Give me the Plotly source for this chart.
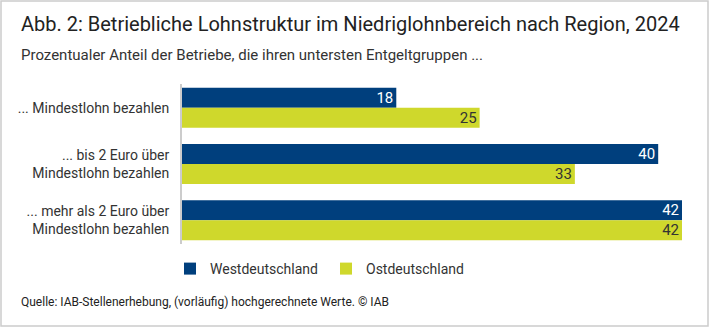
import plotly.graph_objects as go

categories = ["... Mindestlohn bezahlen",
              "... bis 2 Euro über<br>Mindestlohn bezahlen",
              "... mehr als 2 Euro über<br>Mindestlohn bezahlen"]
west = [18, 40, 42]
ost = [25, 33, 42]
series_names = ["Westdeutschland", "Ostdeutschland"]

title = "Abb. 2: Betriebliche Lohnstruktur im Niedriglohnbereich nach Region, 2024"
subtitle = "Prozentualer Anteil der Betriebe, die ihren untersten Entgeltgruppen ..."
source = "Quelle: IAB-Stellenerhebung, (vorläufig) hochgerechnete Werte. © IAB"

W, H = 710, 330
L, R, T, B = 182, 28, 84, 86
PW, PH = W - L - R, H - T - B

def px(x):
    return (x - L) / PW

def py(y):
    return (H - B - y) / PH

FONT = "Roboto"
BLUE = "#003F7D"
LIME = "#CFD82C"

fig = go.Figure()
fig.add_trace(go.Bar(
    y=categories, x=west, name=series_names[0], orientation="h",
    marker=dict(color=BLUE, line=dict(width=0)),
    text=[str(v) for v in west], textposition="inside", insidetextanchor="end",
    textangle=0, constraintext="none",
    textfont=dict(color="white", size=15, family=FONT), cliponaxis=False,
))
fig.add_trace(go.Bar(
    y=categories, x=ost, name=series_names[1], orientation="h",
    marker=dict(color=LIME, line=dict(width=0)),
    text=[str(v) for v in ost], textposition="inside", insidetextanchor="end",
    textangle=0, constraintext="none",
    textfont=dict(color="#333333", size=15, family=FONT), cliponaxis=False,
))

fig.update_layout(
    width=W, height=H,
    margin=dict(l=L, r=R, t=T, b=B, pad=0),
    paper_bgcolor="white", plot_bgcolor="white",
    barmode="group", bargap=0.29, bargroupgap=0,
    font=dict(family=FONT, color="#333333", size=14),
    showlegend=True,
    legend=dict(orientation="h", x=px(170), y=py(269), xanchor="left", yanchor="middle",
                font=dict(size=14, color="#333333", family=FONT),
                itemwidth=30, traceorder="normal", entrywidth=111),
    xaxis=dict(range=[0, 42], visible=False, fixedrange=True),
    yaxis=dict(type="category", range=[2.42, -0.42], showline=True, linecolor="#CCCCCC",
               linewidth=2, showgrid=False, zeroline=False, ticks="",
               ticklabelstandoff=8,
               tickfont=dict(size=14, color="#333333", family=FONT)),
)

fig.add_annotation(text=title, xref="paper", yref="paper", x=px(19), y=py(24),
                   xanchor="left", yanchor="middle", showarrow=False,
                   font=dict(size=20, color="#222222", family=FONT))
fig.add_annotation(text=subtitle, xref="paper", yref="paper", x=px(19), y=py(55),
                   xanchor="left", yanchor="middle", showarrow=False,
                   font=dict(size=15, color="#333333", family=FONT))
fig.add_annotation(text=source, xref="paper", yref="paper", x=px(19), y=py(302),
                   xanchor="left", yanchor="middle", showarrow=False,
                   font=dict(size=12, color="#222222", family=FONT))

fig.add_shape(type="rect", xref="paper", yref="paper",
              x0=px(1), x1=px(708), y0=py(326), y1=py(1),
              line=dict(color="#CCCCCC", width=1.5), fillcolor="rgba(0,0,0,0)", layer="below")

fig.write_html("out.html")
